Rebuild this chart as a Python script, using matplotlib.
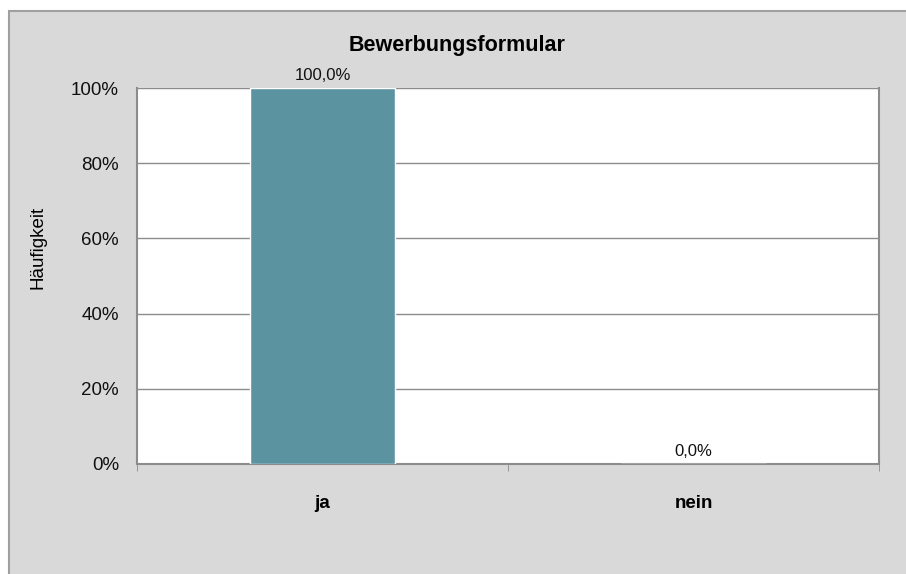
import matplotlib
matplotlib.use("Agg")
import matplotlib.pyplot as plt
from matplotlib.patches import Rectangle
from matplotlib.ticker import FuncFormatter, FixedLocator

categories = ["ja", "nein"]
values = [1.0, 0.0]
labels = ["100,0%", "0,0%"]
title = "Bewerbungsformular"
ylabel = "Häufigkeit"

plt.rcParams['font.family'] = ['Liberation Sans', 'DejaVu Sans']

fig = plt.figure(figsize=(9.06, 5.74), dpi=100)
fig.patch.set_facecolor('white')
W, H = 906, 574
bg = Rectangle((8.5 / W, -0.01), 1.02 - 8.5 / W, (H - 10.5) / H + 0.01, transform=fig.transFigure,
               facecolor='#D9D9D9', edgecolor='#A0A0A0', linewidth=1.5, zorder=-10)
fig.patches.append(bg)

ax = fig.add_axes([137 / W, (H - 464) / H, 742 / W, 376 / H])
ax.set_zorder(1)
ax.set_facecolor('white')
x = list(range(len(categories)))
ax.bar(x, values, width=0.39, color='#5B94A0', edgecolor='white', linewidth=1, zorder=3)
for xi, v, lab in zip(x, values, labels):
    ax.text(xi, v + 0.012, lab, ha='center', va='bottom', fontsize=12, color='#111111', zorder=4)

ax.set_xlim(-0.5, len(categories) - 0.5)
ax.set_ylim(0, 1.0)
ax.set_yticks([0, 0.2, 0.4, 0.6, 0.8, 1.0])
ax.yaxis.set_major_formatter(FuncFormatter(lambda v, p: f"{v*100:.0f}%"))
ax.yaxis.grid(True, color='#8C8C8C', linewidth=1, zorder=1)
ax.set_axisbelow(True)

ax.set_xticks(x)
ax.set_xticklabels(categories, fontsize=13.5, fontweight='bold')
ax.tick_params(axis='x', length=0, pad=22)
ax.xaxis.set_minor_locator(FixedLocator([-0.5, 0.5, 1.5]))
ax.tick_params(axis='x', which='minor', length=5, color='#8C8C8C', direction='out')
ax.tick_params(axis='y', labelsize=13.5, length=0, pad=13, colors='#111111')

for s in ['left', 'bottom', 'right']:
    ax.spines[s].set_color('#8C8C8C')
    ax.spines[s].set_linewidth(1.5)
ax.spines['top'].set_visible(False)

ax.set_ylabel(ylabel, fontsize=13.5, va='center')
ax.yaxis.set_label_coords((38 - 137) / 742, (464 - 247) / 376)
fig.text(457 / W, 1 - 45 / H, title, ha='center', va='center', fontsize=15.5, fontweight='bold')

fig.savefig('out.png', dpi=100, facecolor=fig.get_facecolor())
